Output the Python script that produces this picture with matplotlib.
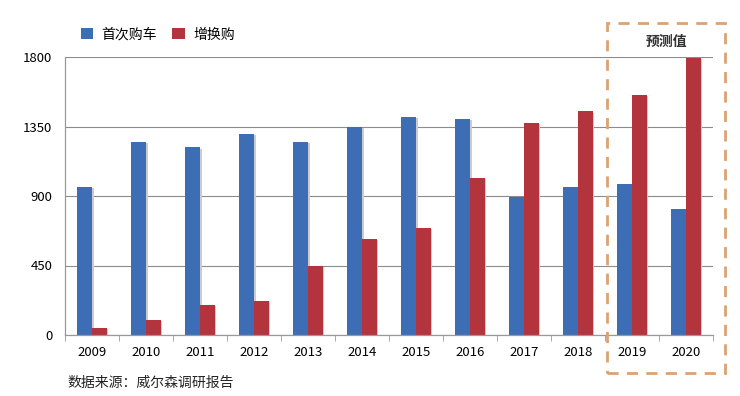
import matplotlib.pyplot as plt
import numpy as np
from matplotlib.patches import Rectangle

plt.rcParams['font.family'] = ['Noto Sans CJK SC', 'DejaVu Sans']

years = ['2009', '2010', '2011', '2012', '2013', '2014', '2015', '2016',
         '2017', '2018', '2019', '2020']
first_buy = [958, 1248, 1215, 1300, 1248, 1349, 1414, 1399, 896, 956, 980, 816]
replace_buy = [47, 97, 196, 220, 447, 620, 695, 1015, 1375, 1448, 1554, 1795]
yticks = [0, 450, 900, 1350, 1800]

blue = '#3d6db5'
red = '#b3343c'

fig = plt.figure(figsize=(7.4, 3.96), dpi=100)
ax = fig.add_axes([65 / 740, 1 - 335 / 396, 648 / 740, 278 / 396])

x = np.arange(len(years))
w = 0.27
# soft shadow behind the bars
ax.bar(x - w / 2 + 0.03, first_buy, w, bottom=-8, color='#cccccc', zorder=2)
ax.bar(x + w / 2 + 0.03, replace_buy, w, bottom=-8, color='#cccccc', zorder=2)
ax.bar(x - w / 2, first_buy, w, color=blue, zorder=3, label='首次购车')
ax.bar(x + w / 2, replace_buy, w, color=red, zorder=3, label='增换购')

ax.set_xlim(-0.5, len(years) - 0.5)
ax.set_ylim(0, 1800)
ax.set_yticks(yticks)
ax.set_yticklabels([str(v) for v in yticks], fontsize=9.5)
ax.set_xticks(x)
ax.set_xticklabels(years, fontsize=9.5)
ax.set_xticks(np.arange(len(years) + 1) - 0.5, minor=True)
ax.tick_params(axis='x', which='major', length=0, pad=8)
ax.tick_params(axis='x', which='minor', length=4, color='#999999', direction='out')
ax.tick_params(axis='y', length=0, pad=9)
ax.yaxis.grid(True, color='#8c8c8c', linewidth=0.8, zorder=0)
ax.set_axisbelow(True)
for s in ['top', 'right']:
    ax.spines[s].set_visible(False)
for s in ['left', 'bottom']:
    ax.spines[s].set_color('#999999')
    ax.spines[s].set_linewidth(0.9)
    ax.spines[s].set_zorder(4)

fig.legend(loc='upper left', bbox_to_anchor=(68 / 740, 1 - 15 / 396), ncol=2,
           frameon=False, fontsize=10, handlelength=0.9, handleheight=0.9,
           columnspacing=1.1, handletextpad=0.6)

# forecast box
box = Rectangle((607 / 740, 1 - 373 / 396), 118 / 740, 350 / 396,
                transform=fig.transFigure, fill=False, edgecolor='#dca273',
                linewidth=2, linestyle=(0, (4, 3)), zorder=10)
fig.patches.append(box)
fig.text(667 / 740, 1 - 42 / 396, '预测值', ha='center', va='center',
         fontsize=10, fontweight='bold', color='#333333')

fig.text(67 / 740, 1 - 383 / 396, '数据来源：威尔森调研报告', ha='left',
         va='center', fontsize=10, color='#222222')

fig.savefig('out.png', dpi=100, facecolor='white')
